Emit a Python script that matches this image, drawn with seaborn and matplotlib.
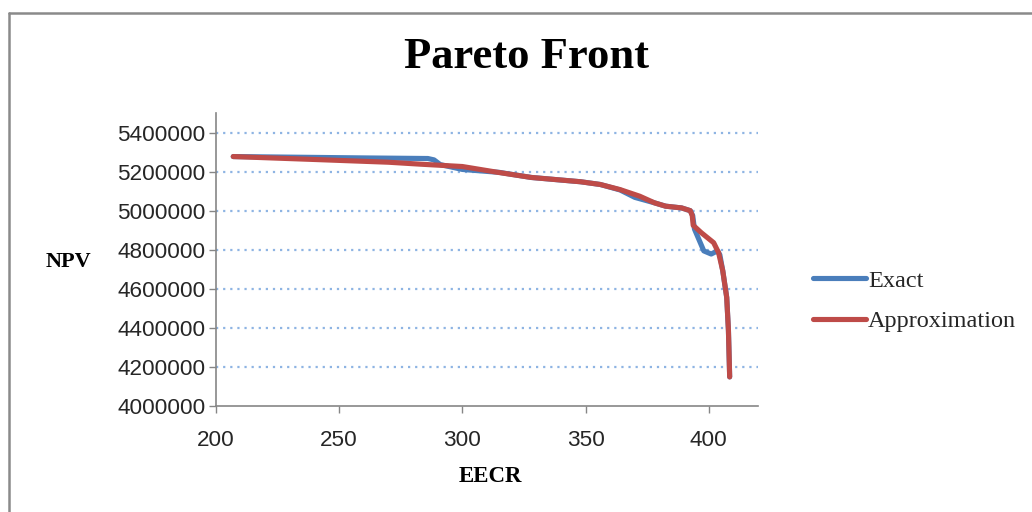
import matplotlib
matplotlib.use("Agg")
import matplotlib.pyplot as plt
import seaborn as sns
import pandas as pd
from matplotlib.lines import Line2D

# ---- data ----
exact_eecr = [207, 230, 260, 286, 288.5, 291, 300, 315, 328, 348, 356, 364, 370, 378,
              382.5, 389, 392.5, 393.5, 394.2, 398, 401, 403.5, 404.5, 405.7, 407.3, 408, 408.5]
exact_npv = [5277000, 5274000, 5270000, 5267000, 5260000, 5236000, 5211000, 5196000, 5170000,
             5148000, 5134000, 5106000, 5068000, 5040000, 5023000, 5014000, 5000000, 4975000,
             4906000, 4794000, 4778000, 4794000, 4775000, 4692000, 4556000, 4387000, 4149000]

approx_eecr = [207, 240, 270, 283, 300, 314, 328, 348, 356, 364, 372, 378, 382.5,
               389, 392.5, 393.3, 393.7, 397, 402, 404, 405.7, 407.3, 408, 408.5]
approx_npv = [5277000, 5262000, 5248000, 5238000, 5226000, 5197000, 5170000, 5148000,
              5134000, 5108000, 5074000, 5040000, 5023000, 5014000, 5000000, 4975000, 4925000,
              4887000, 4836000, 4785000, 4692000, 4556000, 4387000, 4149000]

series_names = ["Exact", "Approximation"]
y_ticks = [4000000, 4200000, 4400000, 4600000, 4800000, 5000000, 5200000, 5400000]
x_ticks = [200, 250, 300, 350, 400]

df = pd.concat([
    pd.DataFrame({"EECR": exact_eecr, "NPV": exact_npv, "series": series_names[0]}),
    pd.DataFrame({"EECR": approx_eecr, "NPV": approx_npv, "series": series_names[1]}),
], ignore_index=True)

sns.set_theme(style="white")
plt.rcParams["font.family"] = ["Liberation Sans", "DejaVu Sans"]

W, H = 1032, 512
fig = plt.figure(figsize=(W / 100, H / 100), dpi=100)
ax = fig.add_axes([216 / W, 1 - 406 / H, (758 - 216) / W, (406 - 113) / H])

palette = {"Exact": "#4A7EBB", "Approximation": "#BE4B48"}
sns.lineplot(data=df, x="EECR", y="NPV", hue="series", hue_order=series_names,
             palette=palette, sort=False, estimator=None, linewidth=3.7, ax=ax,
             legend=True)
for ln in ax.lines:
    ln.set_solid_capstyle("round")
    ln.set_solid_joinstyle("round")

ax.set_xlim(200, 420)
ax.set_ylim(4000000, 5500000)
ax.set_xticks(x_ticks)
ax.set_yticks(y_ticks)
ax.set_xticklabels([str(v) for v in x_ticks])
ax.set_yticklabels([str(v) for v in y_ticks])
ax.tick_params(axis="both", labelsize=16.2, colors="#868686",
               direction="out", length=5, width=1, left=True, bottom=True)
ax.tick_params(axis="both", labelcolor="#262626")
ax.tick_params(axis="y", pad=2.5)
ax.tick_params(axis="x", pad=12)

for s in ["top", "right"]:
    ax.spines[s].set_visible(False)
for s in ["left", "bottom"]:
    ax.spines[s].set_color("#868686")
    ax.spines[s].set_linewidth(1.2)

for yv in y_ticks[1:]:
    ax.axhline(yv, color="#8EB4E3", linestyle=(0, (1, 2.2)), linewidth=1.6, zorder=0)

ax.set_xlabel("")
ax.set_ylabel("")

# legend
handles, labels = ax.get_legend_handles_labels()
ax.get_legend().remove()
leg = fig.legend(handles, labels, loc="center left",
                 bbox_to_anchor=(803 / W, 1 - 301 / H), frameon=False,
                 prop={"family": "Liberation Serif", "size": 17.5},
                 handlelength=2.2, handletextpad=0.08, labelspacing=0.78,
                 borderaxespad=0)
for lh in leg.get_lines():
    lh.set_linewidth(3.7)

# titles / labels
fig.text(527 / W, 1 - 57 / H, "Pareto Front", ha="center", va="center",
         family="Liberation Serif", weight="bold", fontsize=32, color="black")
fig.text(68 / W, 1 - 262 / H, "NPV", ha="center", va="center",
         family="Liberation Serif", weight="bold", fontsize=16, color="black")
fig.text(490 / W, 1 - 476 / H, "EECR", ha="center", va="center",
         family="Liberation Serif", weight="bold", fontsize=16.5, color="black")

# outer chart frame (left and top edges visible)
fig.add_artist(Line2D([9 / W, 9 / W], [0, 1 - 13 / H], transform=fig.transFigure,
                      color="#8a8a8a", linewidth=1.8))
fig.add_artist(Line2D([9 / W, 1], [1 - 13 / H, 1 - 13 / H], transform=fig.transFigure,
                      color="#8a8a8a", linewidth=1.8))

fig.savefig("out.png", dpi=100, facecolor="white")
